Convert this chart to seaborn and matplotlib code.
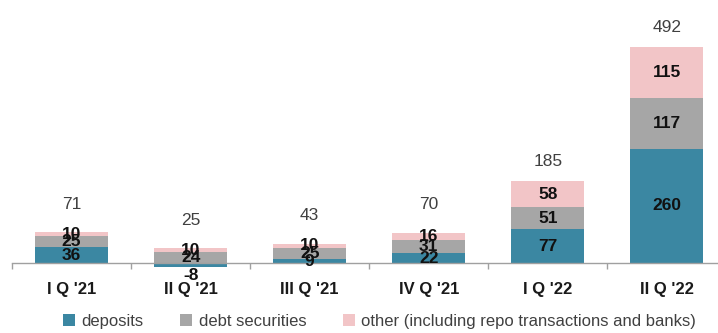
import numpy as np
import pandas as pd
import matplotlib
matplotlib.use("Agg")
import matplotlib.pyplot as plt
import seaborn as sns
from matplotlib import font_manager
from matplotlib.patches import Patch
from matplotlib.ticker import FixedLocator

# Quarterly data
quarters = ["I Q '21", "II Q '21", "III Q '21", "IV Q '21", "I Q '22", "II Q '22"]
deposits = [36, -8, 9, 22, 77, 260]
debt_securities = [25, 24, 25, 31, 51, 117]
other = [10, 10, 10, 16, 58, 115]
totals = [71, 25, 43, 70, 185, 492]

series_names = ["deposits", "debt securities", "other (including repo transactions and banks)"]
colors = ["#3B87A2", "#A6A6A6", "#F2C5C7"]

sns.set_theme(style="white")
installed = {f.name for f in font_manager.fontManager.ttflist}
family = [f for f in ["Liberation Sans Narrow", "Liberation Sans", "DejaVu Sans"] if f in installed]
plt.rcParams["font.family"] = family

fig = plt.figure(figsize=(7.18, 3.33), dpi=100)
ax = fig.add_axes([12 / 718, 0.1838, 706 / 718, 0.791])

df = pd.DataFrame({
    "quarter": quarters,
    "deposits": deposits,
    "debt securities": debt_securities,
    "other": other,
})

dep = np.array(deposits, dtype=float)
debt = np.array(debt_securities, dtype=float)
oth = np.array(other, dtype=float)
base_debt = np.clip(dep, 0, None)
base_oth = base_debt + debt

bar_w = 0.61
layers = [
    ("deposits", np.zeros(len(quarters)), colors[0]),
    ("debt securities", base_debt, colors[1]),
    ("other", base_oth, colors[2]),
]
for col, bottom, color in layers:
    sns.barplot(data=df, x="quarter", y=col, order=quarters, color=color,
                width=bar_w, bottom=bottom, saturation=1, linewidth=0, ax=ax)

ax.set_xlim(-0.5, 5.43)
ax.set_ylim(-20, 580)

# Value labels inside the segments
lab_kw = dict(ha="center", va="center", fontsize=12.5, fontweight="bold", color="#111111")
for i in range(len(quarters)):
    if dep[i] >= 0:
        ax.text(i, dep[i] / 2, f"{deposits[i]}", **lab_kw)
    else:
        ax.annotate(f"{deposits[i]}", (i, dep[i]), xytext=(0, -1), textcoords="offset points",
                    ha="center", va="top", fontsize=12.5, fontweight="bold", color="#111111")
    ax.text(i, base_debt[i] + debt[i] / 2, f"{debt_securities[i]}", **lab_kw)
    ax.text(i, base_oth[i] + oth[i] / 2, f"{other[i]}", **lab_kw)
    top = base_oth[i] + oth[i]
    off = 14 if totals[i] > 100 else 20
    ax.annotate(f"{totals[i]}", (i, top), xytext=(0, off), textcoords="offset points",
                ha="center", va="center", fontsize=12.5, color="#404040")

# Axis line at zero with boundary ticks
for s in ["top", "right", "left"]:
    ax.spines[s].set_visible(False)
ax.spines["bottom"].set_position(("data", 0))
ax.spines["bottom"].set_color("#A0A0A0")
ax.spines["bottom"].set_linewidth(1.0)
ax.set_yticks([])
ax.set_xlabel("")
ax.set_ylabel("")
ax.xaxis.set_minor_locator(FixedLocator(np.arange(-0.5, 6, 1.0)))
ax.tick_params(axis="x", which="minor", direction="out", length=4, width=1, color="#A0A0A0", bottom=True)
ax.tick_params(axis="x", which="major", length=0, pad=14, labelsize=12, labelcolor="#1a1a1a")
for t in ax.get_xticklabels():
    t.set_fontweight("bold")

handles = [Patch(facecolor=c, edgecolor="none") for c in colors]
fig.legend(handles, series_names, loc="center", bbox_to_anchor=(0.529, 0.035), ncol=3,
           frameon=False, fontsize=12, handlelength=0.7, handleheight=0.7, handletextpad=0.4,
           columnspacing=2.2, labelcolor="#404040")

fig.savefig("out.png", dpi=100)
